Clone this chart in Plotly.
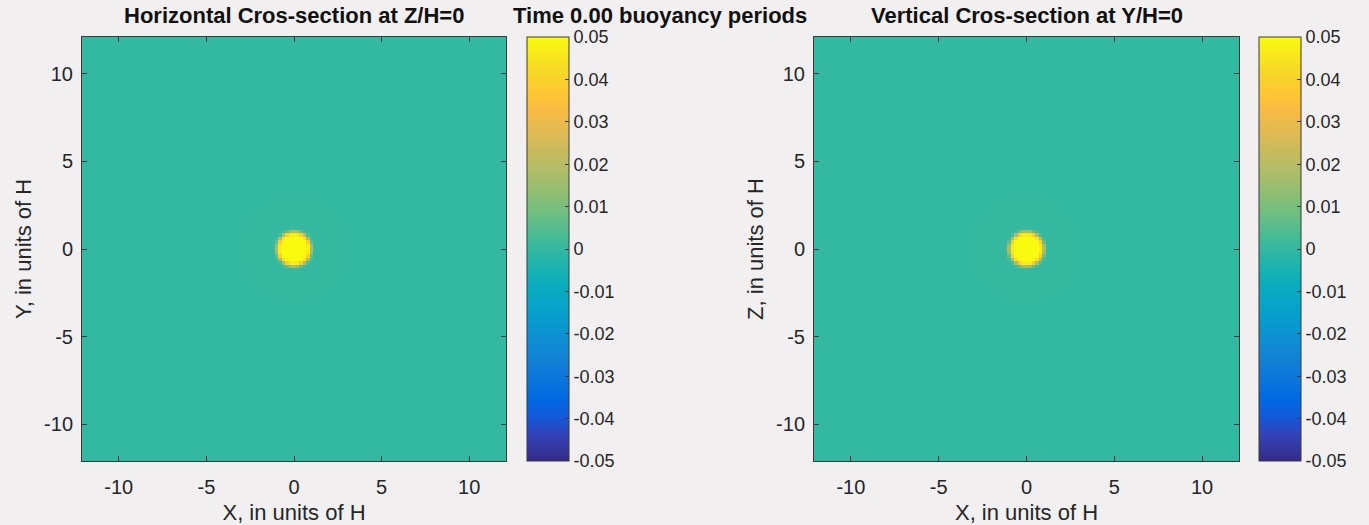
import numpy as np
import plotly.graph_objects as go

# ---------------- data ----------------
grid_coords = np.round(np.arange(-12.0, 12.0001, 0.2), 4)   # cell centres (units of H)
blob_center_x = 0.0
blob_center_y = 0.0
blob_radius = 0.97           # units of H
blob_amplitude = 0.05
blob_edge_width = 0.12
axis_tick_vals = [-10, -5, 0, 5, 10]
axis_tick_text = ["-10", "-5", "0", "5", "10"]
cbar_tick_vals = [0.05, 0.04, 0.03, 0.02, 0.01, 0, -0.01, -0.02, -0.03, -0.04, -0.05]
cbar_tick_text = ["0.05", "0.04", "0.03", "0.02", "0.01", "0", "-0.01", "-0.02", "-0.03", "-0.04", "-0.05"]
color_min, color_max = -0.05, 0.05

title_left = "Horizontal Cros-section at Z/H=0"
title_mid = "Time 0.00 buoyancy periods"
title_right = "Vertical Cros-section at Y/H=0"

# field built from the blob parameters
X, Y = np.meshgrid(grid_coords, grid_coords)
R = np.hypot(X - blob_center_x, Y - blob_center_y)
field = blob_amplitude * 0.5 * (1 - np.tanh((R - blob_radius) / blob_edge_width))

# MATLAB parula (sampled)
parula = [
    [0.0, "rgb(53,42,135)"],
    [0.0635, "rgb(50,67,186)"],
    [0.1111, "rgb(15,92,221)"],
    [0.1429, "rgb(2,104,225)"],
    [0.2381, "rgb(20,129,214)"],
    [0.3333, "rgb(7,156,207)"],
    [0.4127, "rgb(10,172,190)"],
    [0.4762, "rgb(37,181,169)"],
    [0.5238, "rgb(66,187,152)"],
    [0.5873, "rgb(113,191,128)"],
    [0.6667, "rgb(165,190,107)"],
    [0.7619, "rgb(217,186,86)"],
    [0.8254, "rgb(248,187,68)"],
    [0.8571, "rgb(255,195,55)"],
    [0.9206, "rgb(247,216,38)"],
    [1.0, "rgb(249,251,14)"],
]

W, H = 1369, 525
FONT = "Liberation Sans, Arial, Helvetica, sans-serif"
TXT = "#262626"
BG = "#f1eff0"
LINE = "#3a3a3a"

def px_x(p):
    return p / W

def px_y(p):
    return 1 - p / H

top_px, bot_px = 37, 461
left1, right1 = 82, 506
left2, right2 = 814, 1239
cb1_x, cb2_x = 527, 1259
cb_thick = 42

def cbar(xpx):
    return dict(
        x=px_x(xpx), xanchor="left", xref="paper",
        y=px_y(bot_px), yanchor="bottom", yref="paper",
        len=(bot_px - top_px) / H, lenmode="fraction",
        thickness=cb_thick, thicknessmode="pixels",
        outlinecolor=LINE, outlinewidth=1,
        tickmode="array", tickvals=cbar_tick_vals, ticktext=cbar_tick_text,
        ticks="inside", ticklen=4, tickcolor=LINE,
        tickfont=dict(family=FONT, size=18, color=TXT),
        ypad=0, xpad=0,
    )

fig = go.Figure()
fig.add_trace(go.Heatmap(
    x=grid_coords, y=grid_coords, z=field, colorscale=parula,
    zmin=color_min, zmax=color_max, xaxis="x", yaxis="y",
    colorbar=cbar(cb1_x), hoverinfo="skip",
))
fig.add_trace(go.Heatmap(
    x=grid_coords, y=grid_coords, z=field, colorscale=parula,
    zmin=color_min, zmax=color_max, xaxis="x2", yaxis="y2",
    colorbar=cbar(cb2_x), hoverinfo="skip",
))

def axis_common(domain, title, anchor, standoff, labelstandoff):
    return dict(
        domain=domain, range=[-12.1, 12.1], anchor=anchor,
        tickmode="array", tickvals=axis_tick_vals, ticktext=axis_tick_text,
        ticks="inside", ticklen=5, tickcolor=LINE,
        showline=True, linecolor=LINE, linewidth=1, mirror="ticks",
        showgrid=False, zeroline=False,
        ticklabelstandoff=labelstandoff,
        tickfont=dict(family=FONT, size=20, color=TXT),
        title=dict(text=title, font=dict(family=FONT, size=22, color=TXT), standoff=standoff),
    )

ydom = [px_y(bot_px), px_y(top_px)]
fig.update_layout(
    width=W, height=H,
    margin=dict(l=0, r=0, t=0, b=0),
    paper_bgcolor=BG, plot_bgcolor=BG,
    showlegend=False,
    xaxis=axis_common([px_x(left1), px_x(right1)], "X, in units of H", "y", 8, 8),
    yaxis=axis_common(ydom, "Y, in units of H", "x", 6, 4),
    xaxis2=axis_common([px_x(left2), px_x(right2)], "X, in units of H", "y2", 8, 8),
    yaxis2=axis_common(ydom, "Z, in units of H", "x2", 6, 4),
)

for txt, xc in [(title_left, (left1 + right1) / 2), (title_mid, 660), (title_right, (left2 + right2) / 2)]:
    fig.add_annotation(
        text="<b>" + txt + "</b>", x=px_x(xc), y=px_y(16), xref="paper", yref="paper",
        xanchor="center", yanchor="middle", showarrow=False,
        font=dict(family=FONT, size=22, color="#111111"),
    )

fig.write_html(
    "out.html",
    config={"displayModeBar": False},
    post_script="document.body.style.margin='0';document.body.style.overflow='hidden';",
)
